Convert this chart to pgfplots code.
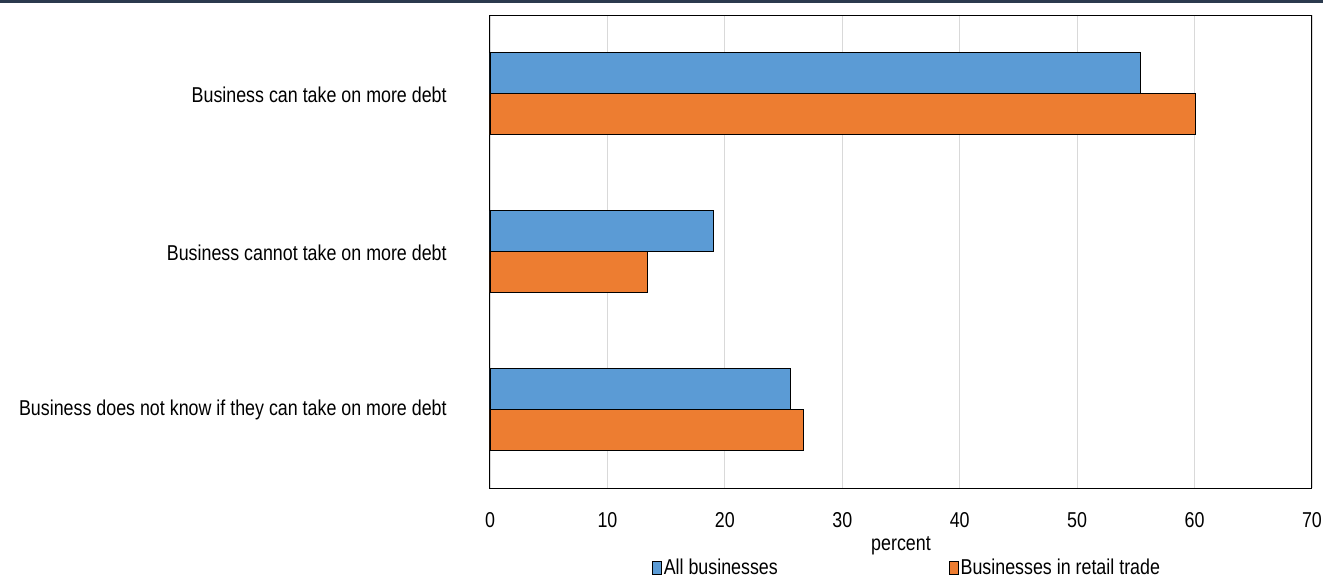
\documentclass[border=0pt]{standalone}
\usepackage{fontspec}
\setmainfont{Liberation Sans}[FakeStretch=0.83]
\usepackage{pgfplots}
\pgfplotsset{compat=1.18}
\definecolor{cblue}{HTML}{5B9BD5}
\definecolor{corange}{HTML}{ED7D31}
\definecolor{band}{HTML}{2B3A4E}
\begin{document}
\fontsize{21.5}{25}\selectfont
\begin{tikzpicture}[x=1pt,y=1pt]
\useasboundingbox (0,0) rectangle (1323,-578);
\fill[band] (0,0) rectangle (1323,-3);
\begin{axis}[
  at={(490pt,-488pt)}, anchor=south west,
  scale only axis, width=822pt, height=473pt,
  xbar, bar width=41pt,
  xmin=0, xmax=70, ymin=-0.5, ymax=2.5, y dir=reverse,
  xtick={0,10,...,70},
  xmajorgrids, grid style={draw=black!15, line width=0.8pt},
  axis line style={line width=1pt},
  major tick length=0pt,
  ytick={0,1,2},
  yticklabels={Business can take on more debt, Business cannot take on more debt, Business does not know if they can take on more debt},
  /pgf/number format/assume math mode=true,
  ticklabel style={font=\fontsize{21.5}{25}\selectfont},
  yticklabel style={xshift=-36pt, yshift=-1pt},
  xticklabel style={yshift=-17pt},
  xlabel={percent},
  xlabel style={font=\fontsize{21.5}{25}\selectfont, yshift=6pt},
  legend style={at={(0.5,-0.142)}, xshift=6pt, anchor=north, draw=none, legend columns=2,
    font=\fontsize{21.5}{25}\selectfont,
    /tikz/every even column/.append style={column sep=169pt}},
  legend image code/.code={\draw[#1,draw=black] (0pt,-6pt) rectangle (9pt,7pt);},
]
\addplot[fill=cblue, draw=black, line width=0.8pt, bar shift=20.5pt] coordinates {(55.4,0) (19.0,1) (25.6,2)};
\addplot[fill=corange, draw=black, line width=0.8pt, bar shift=-20.5pt] coordinates {(60.1,0) (13.4,1) (26.7,2)};
\legend{All businesses, Businesses in retail trade}
\end{axis}
\end{tikzpicture}
\end{document}
